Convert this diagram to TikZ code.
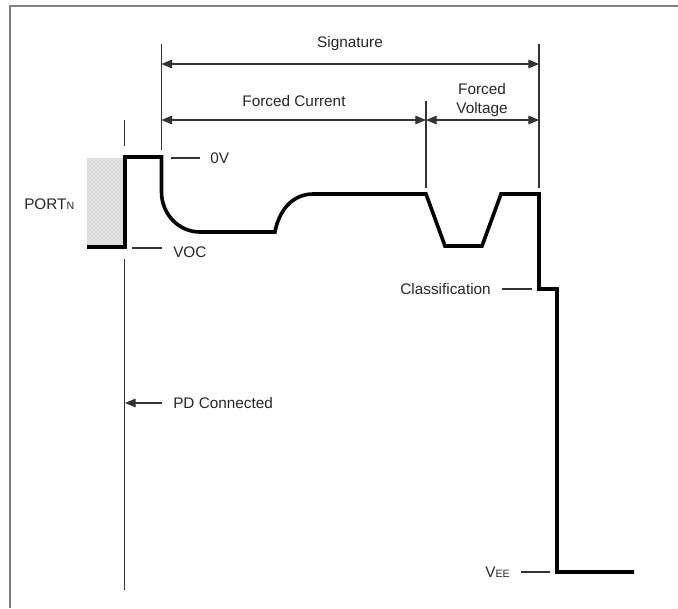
\documentclass[tikz,border=0pt]{standalone}
\usepackage{fontspec}
\setmainfont{Liberation Sans}
\usetikzlibrary{arrows.meta,patterns}
\begin{document}
\begin{tikzpicture}[x=0.75pt,y=-0.75pt,
  lbl/.style={font=\fontsize{11.5}{14.25}\selectfont, inner sep=0pt, text=black!85},
  thinline/.style={line width=0.8pt, black!80},
  wave/.style={line width=2.7pt, line join=miter, line cap=butt},
  tip/.style={Triangle[length=8pt,width=6.5pt]},
  dim/.style={thinline, {Triangle[length=8pt,width=6.5pt]}-{Triangle[length=8pt,width=6.5pt]}},
]
\useasboundingbox (0,0) rectangle (678,608);
\draw[gray, line width=1pt] (10,608) -- (10,6) -- (678,6);

% shaded region
\fill[gray!22] (87,158) rectangle (123,246);
\fill[pattern=crosshatch dots, pattern color=gray!55] (87,158) rectangle (123,246);

% waveform
\draw[wave] (87,247) -- (125,247) -- (125,157) -- (161.5,157) -- (161.5,192)
  to[out=-90,in=180] (200,232) -- (275,232) to[out=80,in=180] (313,194)
  -- (426,194) -- (445,246) -- (482,246) -- (501,194) -- (539,194)
  -- (539,289) -- (557,289) -- (557,572) -- (634,572);

% coordinates for markers
\coordinate (pdT1) at (124.5,120);
\coordinate (pdT2) at (124.5,146);
\coordinate (pdB1) at (124.5,259);
\coordinate (pdB2) at (124.5,590);
\coordinate (sL1) at (161.5,44);
\coordinate (sL2) at (161.5,150);
\coordinate (sM1) at (426,101);
\coordinate (sM2) at (426,188);
\coordinate (sR1) at (539,44);
\coordinate (sR2) at (539,188);
\coordinate (sigL) at (161.5,64);
\coordinate (sigR) at (539,64);
\coordinate (fcL) at (161.5,120);
\coordinate (fcM) at (426,120);
\coordinate (fcR) at (539,120);

\draw[thinline] (pdT1) -- (pdT2);
\draw[thinline] (pdB1) -- (pdB2);
\draw[thinline] (sL1) -- (sL2);
\draw[thinline] (sM1) -- (sM2);
\draw[thinline] (sR1) -- (sR2);

\draw[dim] (sigL) -- (sigR);
\draw[dim] (fcL) -- (fcM);
\draw[dim] (fcM) -- (fcR);

% labels
\node[lbl] (sig) at (350,44) {Signature};
\node[lbl] (fc) at (294,101) {Forced Current};
\node[lbl, align=center] (fv) at (482,100.5) {Forced\\Voltage};

\coordinate (ovA) at (171,158);
\coordinate (ovB) at (200,158);
\draw[thinline] (ovA) -- (ovB);
\node[lbl, anchor=west] (ov) at (210,158) {0V};

\coordinate (vocA) at (132,248);
\coordinate (vocB) at (162,248);
\draw[thinline] (vocA) -- (vocB);
\node[lbl, anchor=west] (voc) at (173,252) {VOC};

\node[lbl, anchor=west] (port) at (24,204) {PORT{\fontsize{8}{9}\selectfont N}};

\coordinate (clA) at (502,289);
\coordinate (clB) at (532,289);
\draw[thinline] (clA) -- (clB);
\node[lbl, anchor=east] (cl) at (491,289) {Classification};

\coordinate (pdA) at (162,403);
\coordinate (pdB) at (125,403);
\draw[thinline, -{Triangle[length=8pt,width=6.5pt]}] (pdA) -- (pdB);
\node[lbl, anchor=west] (pd) at (173,403) {PD Connected};

\coordinate (veA) at (521,572);
\coordinate (veB) at (550,572);
\draw[thinline] (veA) -- (veB);
\node[lbl, anchor=west] (vee) at (485,572) {V{\fontsize{8}{9}\selectfont EE}};
\end{tikzpicture}
\end{document}
